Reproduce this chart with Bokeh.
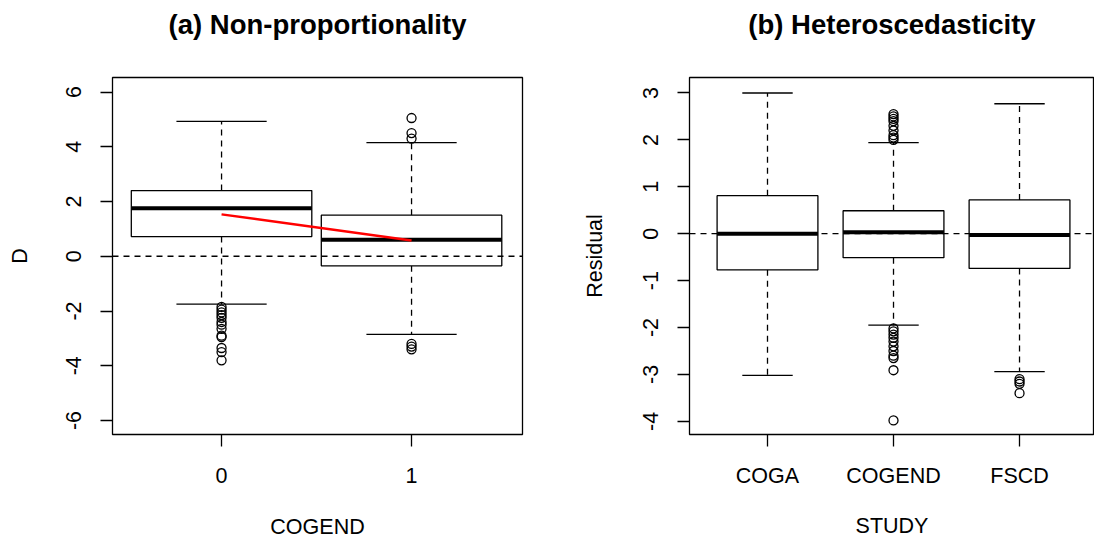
from bokeh.plotting import figure
from bokeh.layouts import row
from bokeh.models import FixedTicker, Span, Title
from bokeh.embed import file_html
from bokeh.resources import INLINE

# ---- data: panel (a)
a_groups = ["0", "1"]
a_q1 = [0.72, -0.35]
a_med = [1.75, 0.60]
a_q3 = [2.40, 1.50]
a_lo = [-1.75, -2.85]
a_hi = [4.93, 4.15]
a_out_0 = [-1.85, -1.95, -2.05, -2.15, -2.25, -2.40, -2.50, -2.65, -2.90, -2.95, -3.35, -3.50, -3.80]
a_out_1 = [4.30, 4.50, 5.05, -3.20, -3.30, -3.40]
a_trend = [1.53, 0.58]
a_yticks = [-6, -4, -2, 0, 2, 4, 6]

# ---- data: panel (b)
b_groups = ["COGA", "COGEND", "FSCD"]
b_q1 = [-0.77, -0.51, -0.74]
b_med = [0.00, 0.03, -0.03]
b_q3 = [0.81, 0.49, 0.72]
b_lo = [-3.02, -1.95, -2.94]
b_hi = [3.00, 1.94, 2.77]
b_out_coga = []
b_out_cogend = [2.00, 2.05, 2.10, 2.20, 2.30, 2.40, 2.45, 2.50, 2.55,
                -2.02, -2.08, -2.15, -2.22, -2.30, -2.40, -2.50, -2.60, -2.65, -2.91, -3.98]
b_out_fscd = [-3.10, -3.15, -3.20, -3.40]
b_yticks = [-4, -3, -2, -1, 0, 1, 2, 3]

FONT = "Liberation Sans"


def style(p, title, yticks, xlabels, xlab, ylab, y_lab_so, x_tick_so, x_lab_so):
    p.xgrid.visible = False
    p.ygrid.visible = False
    p.outline_line_color = "black"
    p.outline_line_width = 1.3
    p.background_fill_color = "white"
    p.border_fill_color = "white"
    for ax in (p.xaxis[0], p.yaxis[0]):
        ax.axis_line_color = None
        ax.major_tick_line_color = "black"
        ax.major_tick_line_width = 1.3
        ax.major_tick_out = 12
        ax.major_tick_in = 0
        ax.minor_tick_line_color = None
        ax.major_label_text_font = FONT
        ax.major_label_text_font_size = "21.5px"
        ax.major_label_text_color = "black"
        ax.axis_label_text_font = FONT
        ax.axis_label_text_font_size = "21.5px"
        ax.axis_label_text_font_style = "normal"
        ax.axis_label_text_color = "black"
    p.yaxis[0].ticker = FixedTicker(ticks=yticks)
    p.yaxis[0].major_label_overrides = {t: str(t) for t in yticks}
    p.yaxis[0].major_label_orientation = "vertical"
    p.yaxis[0].major_label_standoff = 19
    p.yaxis[0].axis_label = ylab
    p.yaxis[0].axis_label_standoff = y_lab_so
    pos = list(range(1, len(xlabels) + 1))
    p.xaxis[0].ticker = FixedTicker(ticks=pos)
    p.xaxis[0].major_label_overrides = {i: s for i, s in zip(pos, xlabels)}
    p.xaxis[0].major_label_standoff = x_tick_so
    p.xaxis[0].axis_label = xlab
    p.xaxis[0].axis_label_standoff = x_lab_so
    # spacer next to the frame, then the real title further out
    p.add_layout(Title(text=" ", text_font=FONT, text_font_size="10px", standoff=20), "above")
    p.add_layout(Title(text=title, text_font=FONT, text_font_size="27.5px", text_font_style="bold",
                       text_color="black", align="center", vertical_align="bottom", standoff=10), "above")


def boxes(p, q1, med, q3, lo, hi, outs, width):
    xs = list(range(1, len(q1) + 1))
    p.segment(x0=xs, y0=q3, x1=xs, y1=hi, line_color="black", line_width=1.3, line_dash="6 5")
    p.segment(x0=xs, y0=q1, x1=xs, y1=lo, line_color="black", line_width=1.3, line_dash="6 5")
    p.segment(x0=[x - width / 4 for x in xs], y0=hi, x1=[x + width / 4 for x in xs], y1=hi,
              line_color="black", line_width=1.3)
    p.segment(x0=[x - width / 4 for x in xs], y0=lo, x1=[x + width / 4 for x in xs], y1=lo,
              line_color="black", line_width=1.3)
    p.vbar(x=xs, width=width, bottom=q1, top=q3, fill_color="white", line_color="black", line_width=1.3)
    p.segment(x0=[x - width / 2 for x in xs], y0=med, x1=[x + width / 2 for x in xs], y1=med,
              line_color="black", line_width=4)
    for x, o in zip(xs, outs):
        if o:
            p.scatter(x=[x] * len(o), y=o, marker="circle", size=9, fill_color=None,
                      line_color="black", line_width=1.3)


# ---- panel (a)
p1 = figure(width=568, height=542, x_range=(0.426, 2.584), y_range=(-6.51, 6.53),
            output_backend="svg", toolbar_location=None,
            min_border_left=112, min_border_right=46, min_border_top=77, min_border_bottom=108)
style(p1, "(a) Non-proportionality", a_yticks, a_groups, "COGEND", "D", 32, 21, 29)
p1.add_layout(Span(location=0, dimension="width", line_color="black", line_width=1.3, line_dash="6 5"))
boxes(p1, a_q1, a_med, a_q3, a_lo, a_hi, [a_out_0, a_out_1], 0.95)
p1.line(x=[1, 2], y=a_trend, line_color="red", line_width=2.5)

# ---- panel (b)
p2 = figure(width=526, height=542, x_range=(0.381, 3.595), y_range=(-4.28, 3.33),
            output_backend="svg", toolbar_location=None,
            min_border_left=121, min_border_right=0, min_border_top=77, min_border_bottom=108)
style(p2, "(b) Heteroscedasticity", b_yticks, b_groups, "STUDY", "Residual", 34, 17, 23)
p2.add_layout(Span(location=0, dimension="width", line_color="black", line_width=1.3, line_dash="6 5"))
boxes(p2, b_q1, b_med, b_q3, b_lo, b_hi, [b_out_coga, b_out_cogend, b_out_fscd], 0.8)

layout = row(p1, p2)
open("out.html", "w").write(file_html(layout, INLINE))
